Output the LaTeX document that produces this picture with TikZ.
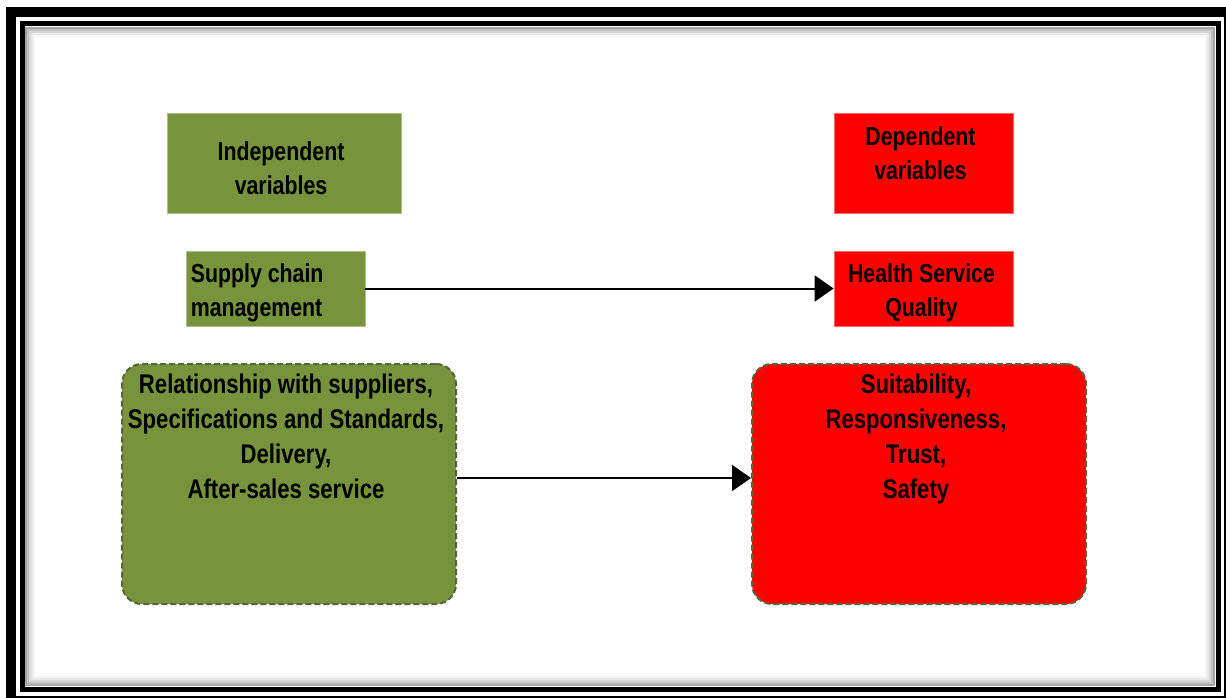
\documentclass[tikz,border=0pt]{standalone}
\usepackage{fontspec}
\newfontfamily\narrowfont[FakeStretch=0.82]{Liberation Sans}
\usepackage{tikz}
\usetikzlibrary{arrows.meta, positioning, calc}

\definecolor{ivgreen}{HTML}{77933C}
\definecolor{dvred}{HTML}{FF0000}
\definecolor{dashgreen}{HTML}{55663A}

\tikzset{
  boxtext/.style={font=\narrowfont\bfseries\fontsize{26}{34}\selectfont, text=black, inner sep=0pt},
  greenbox/.style={rectangle, fill=ivgreen, draw=ivgreen!60!white, line width=0.8pt},
  redbox/.style={rectangle, fill=dvred, draw=dvred!60!white, line width=0.8pt},
  bigbox/.style={rectangle, rounded corners=20pt, draw=dashgreen, dash pattern=on 6pt off 3pt,
    line width=2pt, minimum width=334pt, minimum height=240pt},
  bigtext/.style={font=\narrowfont\bfseries\fontsize{27}{35}\selectfont, align=center, anchor=north},
  arr/.style={-{Triangle[length=19pt,width=26pt]}, line width=2pt}
}

\begin{document}
\begin{tikzpicture}[x=1pt,y=-1pt]
\useasboundingbox (0,0) rectangle (1226,698);
\fill[white] (0,0) rectangle (1226,698);
% frame with inner shadow
\foreach \i/\g in {1/35,2/25,3/16,4/9,5/4}
  \draw[black!\g, line width=2pt] (24+2*\i,26+2*\i) rectangle (1216-2*\i,687-2*\i);
\draw[line width=10pt] (11,12.5) rectangle (1229,701);
\draw[line width=5pt] (22,24) rectangle (1218,689);

% header boxes
\node[greenbox, minimum width=234pt, minimum height=100pt] (indep) at (284,163) {};
\node[boxtext, align=center] (indeptext) at ($(indep)+(-3,5)$) {Independent\\variables};
\node[redbox, minimum width=179pt, minimum height=100pt] (dep) at (923.5,163) {};
\node[boxtext, align=center] (deptext) at ($(dep)+(-3,-10)$) {Dependent\\variables};

% middle row
\node[greenbox, minimum width=179pt, minimum height=75pt] (scm) at (275.5,288.5) {};
\node[boxtext, align=flush left, anchor=west] (scmtext) at ($(scm.west)+(5,4)$) {Supply chain\\management};
\node[redbox, minimum width=179pt, minimum height=75pt] (hsq) at (923.5,288.5) {};
\node[boxtext, align=center] (hsqtext) at ($(hsq)+(-2,4)$) {Health Service\\Quality};
\draw[arr] (scm) -- (hsq);

% dimension boxes
\node[bigbox, fill=ivgreen] (dims) at (289,484) {};
\node[bigtext] (dimstext) at ($(dims.north)+(-3,7)$) {Relationship with suppliers,\\Specifications and Standards,\\Delivery,\\After-sales service};
\node[bigbox, fill=dvred] (quals) at (919,484) {};
\node[bigtext] (qualstext) at ($(quals.north)+(-3,7)$) {Suitability,\\Responsiveness,\\Trust,\\Safety};
\draw[arr] ([yshift=6pt]dims.east) -- ([yshift=6pt]quals.west);
\end{tikzpicture}
\end{document}
